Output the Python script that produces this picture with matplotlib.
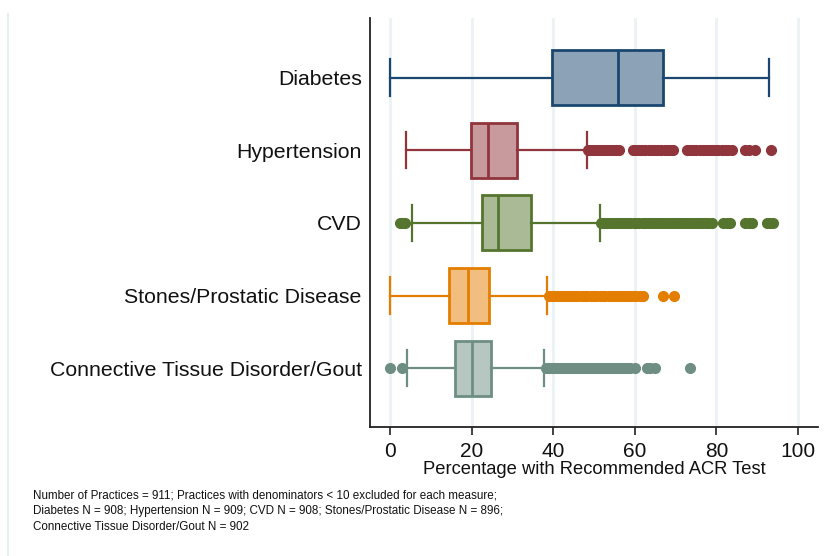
import matplotlib
matplotlib.use('Agg')
import matplotlib.pyplot as plt
from matplotlib.lines import Line2D

plt.rcParams['font.family'] = ['Liberation Sans', 'DejaVu Sans']

# categories, top to bottom
cats = ['Diabetes', 'Hypertension', 'CVD', 'Stones/Prostatic Disease',
        'Connective Tissue Disorder/Gout']

# box stats (percent)
whislo = [0.0, 3.9, 5.4, 0.0, 4.1]
q1     = [39.8, 19.9, 22.6, 14.5, 16.0]
med    = [56.0, 24.0, 26.5, 19.2, 20.0]
q3     = [67.0, 31.2, 34.5, 24.3, 24.7]
whishi = [93.0, 48.2, 51.5, 38.6, 37.7]

# outside values (estimated from the dot clusters)
diab_out = []
hyp_out = [48.5, 49.1, 49.8, 50.4, 51.2, 51.9, 52.5, 53.3, 54.0, 54.6, 55.4, 56.2,
           59.6, 60.3, 61.1, 61.8, 62.6, 63.4, 64.1, 64.9, 65.7, 66.4, 67.3, 68.1, 68.8, 69.4,
           72.8, 73.5, 74.3, 75.1, 75.9, 76.6, 77.4, 78.2, 79.0, 79.7, 80.5, 81.3, 82.1, 82.9, 83.7,
           87.1, 88.0, 89.4, 93.4]
cvd_out = [2.4, 3.0, 3.7,
           51.8, 52.5, 53.2, 53.9, 54.6, 55.3, 56.1, 56.8, 57.5, 58.2, 58.9, 59.7, 60.4, 61.1,
           61.9, 62.6, 63.3, 64.0, 64.8, 65.5, 66.2, 66.9, 67.7, 68.4, 69.1, 69.8, 70.6, 71.3,
           72.0, 72.8, 73.5, 74.2, 74.9, 75.7, 76.4, 77.1, 77.9, 78.8,
           81.6, 82.5, 83.4, 87.0, 88.0, 88.7, 92.3, 93.2, 93.8]
stones_out = [39.0, 39.7, 40.4, 41.1, 41.9, 42.6, 43.3, 44.0, 44.8, 45.5, 46.2, 47.0, 47.7,
              48.4, 49.2, 49.9, 50.6, 51.4, 52.1, 52.8, 53.6, 54.3, 55.1, 55.8, 56.5, 57.3,
              58.0, 58.8, 59.5, 60.4, 61.2, 62.0, 67.0, 69.5]
gout_out = [0.0, 3.0,
            38.3, 39.0, 39.7, 40.5, 41.2, 41.9, 42.7, 43.4, 44.1, 44.9, 45.6, 46.3, 47.1, 47.8,
            48.5, 49.3, 50.0, 50.8, 51.5, 52.2, 53.0, 53.7, 54.5, 55.2, 55.9, 56.7, 57.4, 58.2,
            58.9, 60.0, 62.9, 63.8, 65.0, 73.5]
fliers = [diab_out, hyp_out, cvd_out, stones_out, gout_out]

line_cols = ['#1a476f', '#90353b', '#55752f', '#e37e00', '#6e8e84']
fill_cols = ['#8ca3b7', '#c89a9d', '#aaba97', '#f1be7f', '#b6c6c1']

note = ("Number of Practices = 911; Practices with denominators < 10 excluded for each measure;\n"
        "Diabetes N = 908; Hypertension N = 909; CVD N = 908; Stones/Prostatic Disease N = 896;\n"
        "Connective Tissue Disorder/Gout N = 902")

fig = plt.figure(figsize=(8.3, 5.56), dpi=100)
ax = fig.add_axes([370/830., 1-427/556., 448/830., 409/556.])

stats = []
for i in range(len(cats)):
    stats.append(dict(label=cats[i], whislo=whislo[i], q1=q1[i], med=med[i],
                      q3=q3[i], whishi=whishi[i], fliers=fliers[i]))

pos = list(range(1, len(cats)+1))
for i, s in enumerate(stats):
    c = line_cols[i]
    ax.bxp([s], positions=[pos[i]], vert=False, widths=0.76, capwidths=0.5,
           patch_artist=True, showfliers=True,
           boxprops=dict(facecolor=fill_cols[i], edgecolor=c, linewidth=2),
           medianprops=dict(color=c, linewidth=2),
           whiskerprops=dict(color=c, linewidth=1.6),
           capprops=dict(color=c, linewidth=1.6),
           flierprops=dict(marker='o', markersize=7, markerfacecolor=c,
                           markeredgecolor=c, linestyle='none'))

ax.set_ylim(5.81, 0.18)
ax.set_yticks(pos)
ax.set_yticklabels(cats, fontsize=15.3, color='#111111')
ax.tick_params(axis='y', length=0, pad=6)

ax.set_xlim(-4.9, 104.9)
ax.set_xticks([0, 20, 40, 60, 80, 100])
ax.tick_params(axis='x', length=6, width=1.3, color='#333333', labelsize=15, pad=5,
               labelcolor='#111111')
ax.set_xlabel('Percentage with Recommended ACR Test', fontsize=13.2, labelpad=0,
              color='#111111')

ax.grid(axis='x', color='#eaf2f3', linewidth=2)
ax.set_axisbelow(True)
for loc, spine in ax.spines.items():
    if loc in ['top', 'right']:
        spine.set_visible(False)
    else:
        spine.set_color('#222222')
        spine.set_linewidth(1.3)

# outer region border on the left
fig.add_artist(Line2D([8/830., 8/830.], [0, 1-14/556.], color='#e6eef0', linewidth=1.5))

fig.text(33/830., 1-489/556., note, fontsize=8.4, va='top', ha='left',
         linespacing=1.45, color='#111111')

fig.savefig('out.png', dpi=100)
